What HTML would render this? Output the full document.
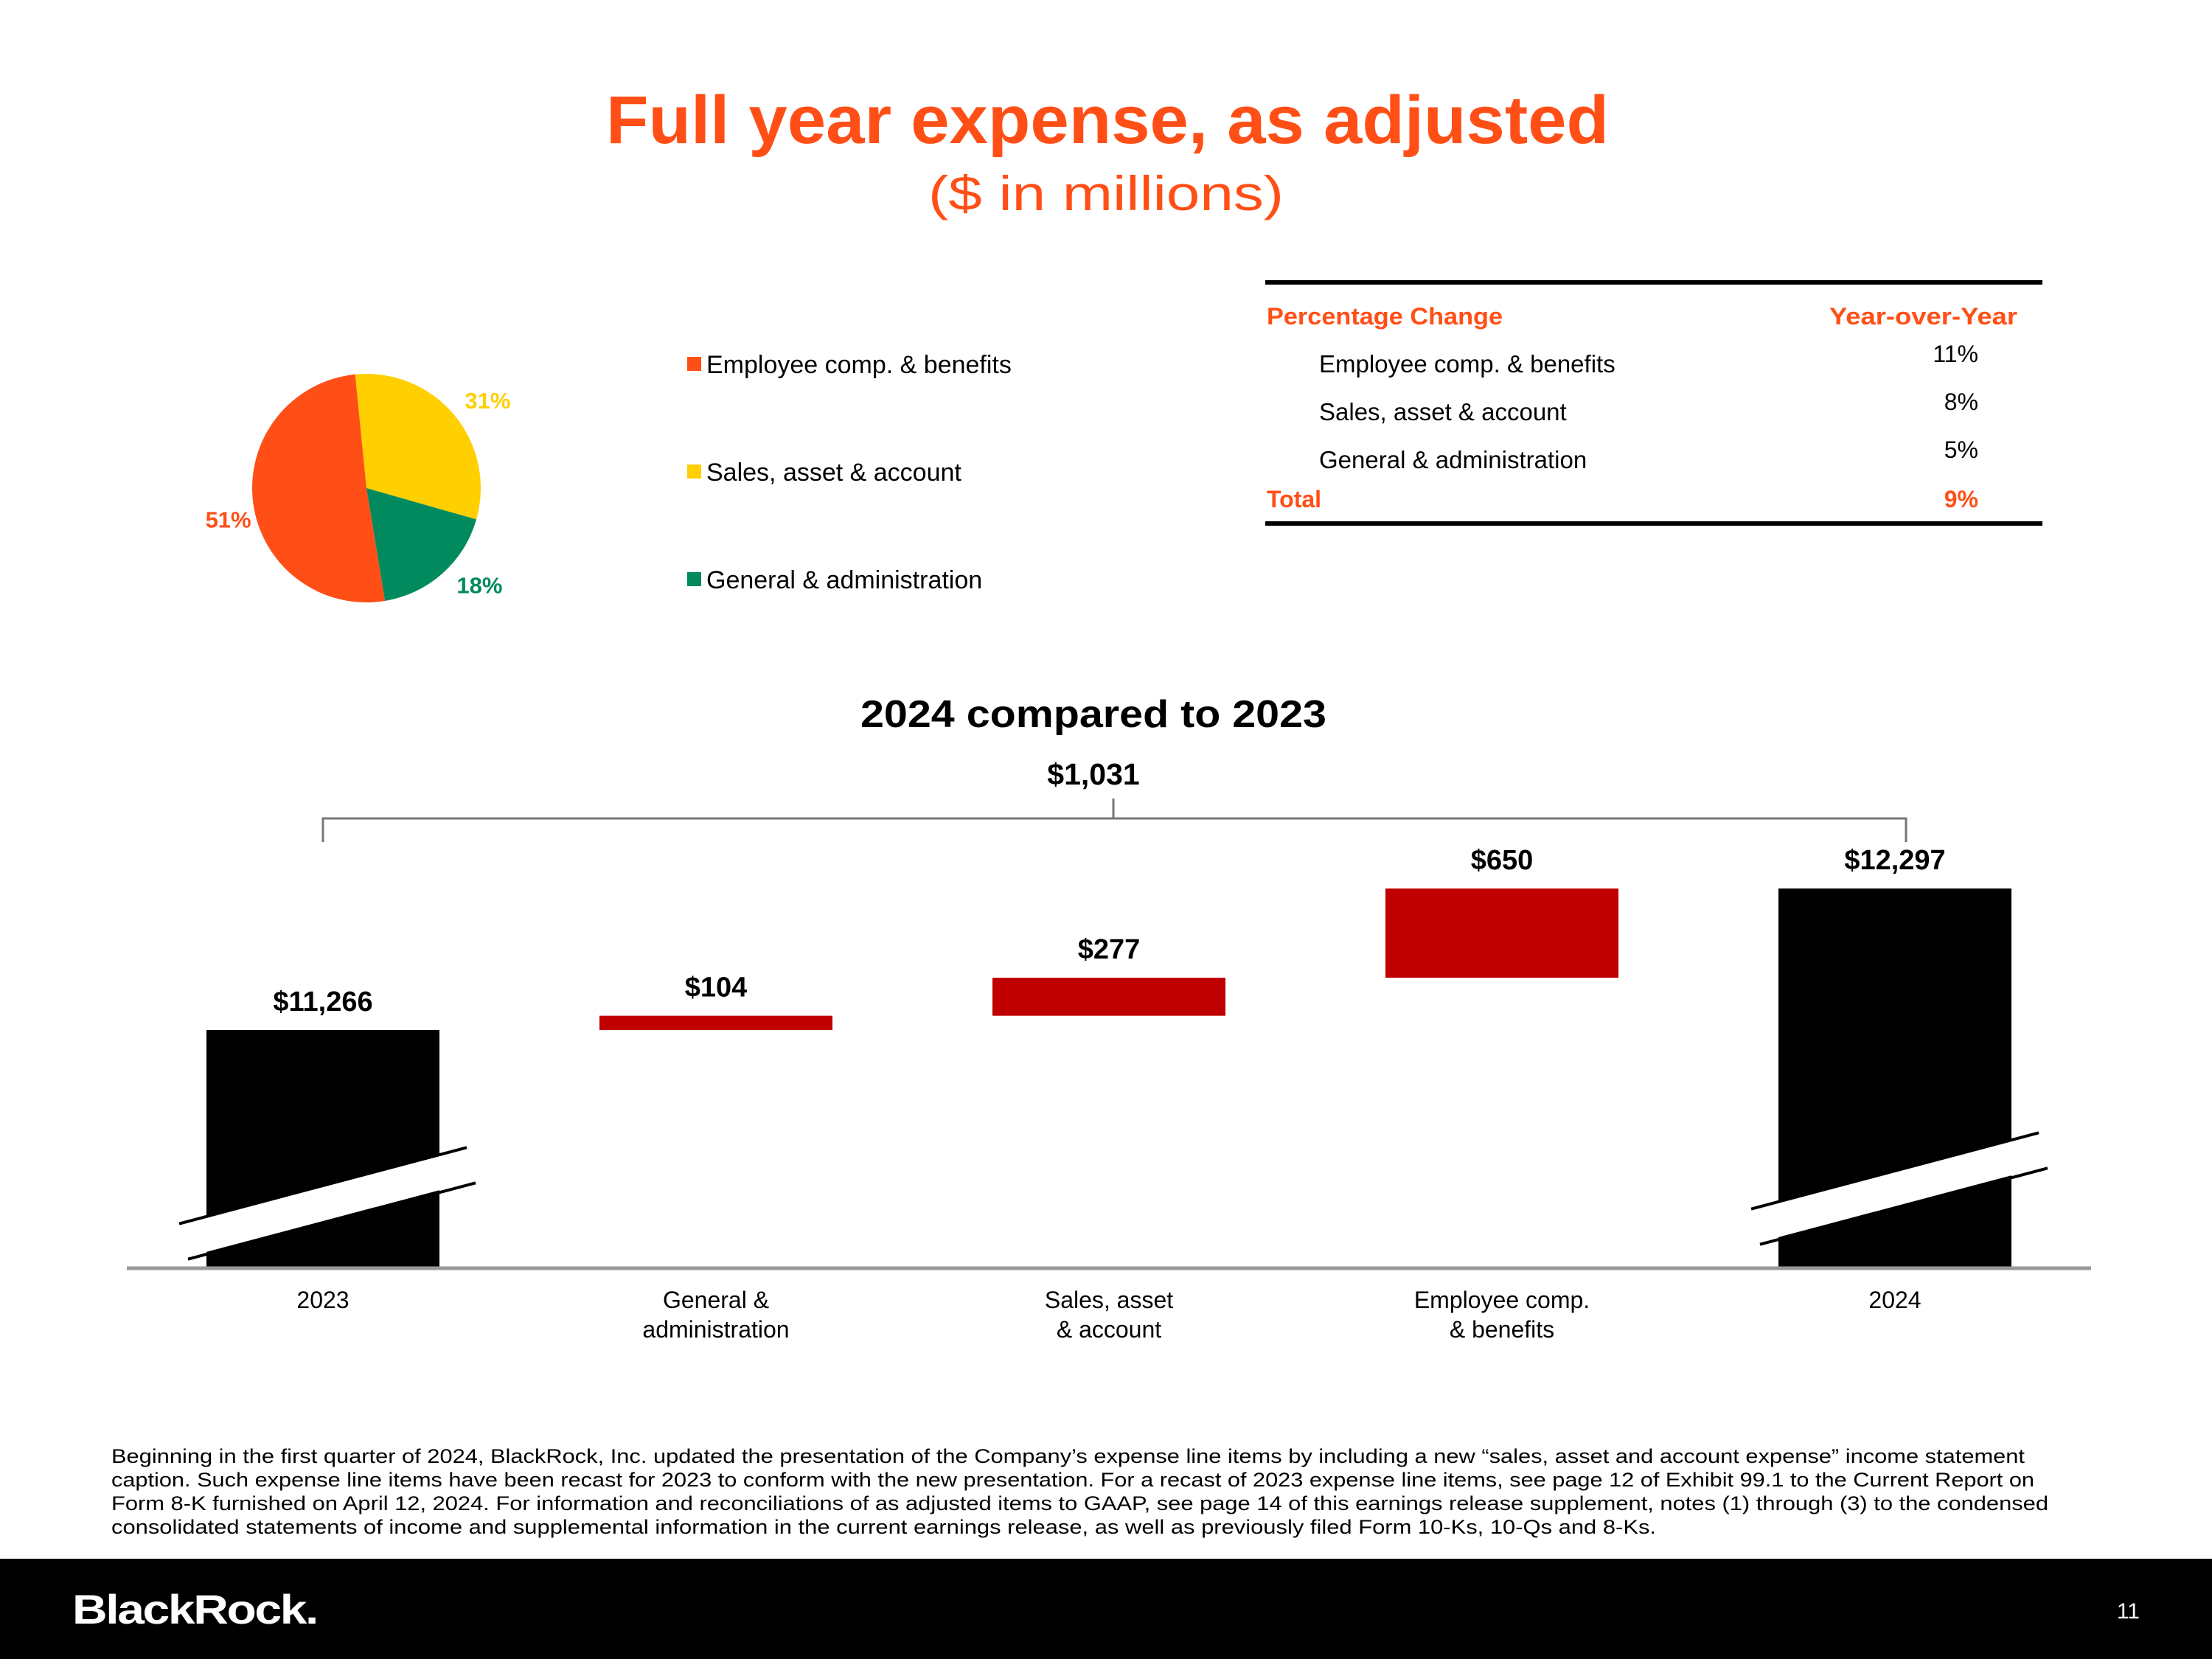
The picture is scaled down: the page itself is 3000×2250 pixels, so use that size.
<!DOCTYPE html>
<html><head><meta charset="utf-8">
<style>
html,body{margin:0;padding:0;background:#fff;}
svg{display:block;font-family:"Liberation Sans",sans-serif;}
</style></head>
<body>
<svg id="chart" width="3000" height="2250" viewBox="0 0 3000 2250" xmlns="http://www.w3.org/2000/svg">
<text x="1502" y="194" text-anchor="middle" font-size="92" font-weight="bold" fill="#FF4F17" textLength="1360" lengthAdjust="spacingAndGlyphs">Full year expense, as adjusted</text>
<text x="1500" y="285" text-anchor="middle" font-size="66" fill="#FF4F17" textLength="482" lengthAdjust="spacingAndGlyphs">($ in millions)</text>

<g id="pie"></g>
<g id="legend"></g>

<g>
<line x1="1716" y1="383" x2="2770" y2="383" stroke="#000" stroke-width="6"/>
<text x="1718" y="440" font-size="32" font-weight="bold" fill="#FF4F17" textLength="320" lengthAdjust="spacingAndGlyphs">Percentage Change</text>
<text x="2736" y="440" text-anchor="end" font-size="32" font-weight="bold" fill="#FF4F17" textLength="255" lengthAdjust="spacingAndGlyphs">Year-over-Year</text>
<g id="tableRows"></g>
<line x1="1716" y1="710" x2="2770" y2="710" stroke="#000" stroke-width="6"/>
</g>

<text x="1483" y="986" text-anchor="middle" font-size="52" font-weight="bold" fill="#000" textLength="632" lengthAdjust="spacingAndGlyphs">2024 compared to 2023</text>
<text x="1483" y="1064" text-anchor="middle" font-size="41" font-weight="bold" fill="#000">$1,031</text>
<g stroke="#777" stroke-width="3" fill="none">
<polyline points="438,1142 438,1110 2585,1110 2585,1142"/>
<line x1="1510" y1="1083" x2="1510" y2="1110"/>
</g>
<g id="bars"></g>
<line x1="172" y1="1720" x2="2836" y2="1720" stroke="#999" stroke-width="5"/>
<g id="catLabels"></g>

<g font-size="27" fill="#000">
<text x="151" y="1984" textLength="2595" lengthAdjust="spacingAndGlyphs">Beginning in the first quarter of 2024, BlackRock, Inc. updated the presentation of the Company’s expense line items by including a new “sales, asset and account expense” income statement</text>
<text x="151" y="2016" textLength="2608" lengthAdjust="spacingAndGlyphs">caption. Such expense line items have been recast for 2023 to conform with the new presentation. For a recast of 2023 expense line items, see page 12 of Exhibit 99.1 to the Current Report on</text>
<text x="151" y="2048" textLength="2627" lengthAdjust="spacingAndGlyphs">Form 8-K furnished on April 12, 2024. For information and reconciliations of as adjusted items to GAAP, see page 14 of this earnings release supplement, notes (1) through (3) to the condensed</text>
<text x="151" y="2080" textLength="2095" lengthAdjust="spacingAndGlyphs">consolidated statements of income and supplemental information in the current earnings release, as well as previously filed Form 10-Ks, 10-Qs and 8-Ks.</text>
</g>
<rect x="0" y="2114" width="3000" height="136" fill="#000"/>
<text x="98" y="2202" font-size="56" font-weight="bold" fill="#fff" letter-spacing="-2" textLength="332" lengthAdjust="spacingAndGlyphs">BlackRock.</text>
<text x="2902" y="2195" text-anchor="end" font-size="30" fill="#fff">11</text>
</svg>
<script>
const NS="http://www.w3.org/2000/svg";
const pieLabels=["Sales, asset & account","General & administration","Employee comp. & benefits"];
const pieShares=[31,18,51];
const pieColors=["#FFCF00","#008A5E","#FF4F17"];
const legendLabels=["Employee comp. & benefits","Sales, asset & account","General & administration"];
const legendColors=["#FF4F17","#FFCF00","#008A5E"];
const tableLabels=["Employee comp. & benefits","Sales, asset & account","General & administration"];
const tableValues=["11%","8%","5%"];
const totalValue="9%";
const categories=["2023","General &|administration","Sales, asset|& account","Employee comp.|& benefits","2024"];
const barValues=[11266,104,277,650,12297];
const barKinds=["total","delta","delta","delta","total"];
const barLabels=["$11,266","$104","$277","$650","$12,297"];

function mk(tag,attrs,parent){const e=document.createElementNS(NS,tag);for(const k in attrs)e.setAttribute(k,attrs[k]);parent.appendChild(e);return e;}

// pie
const pie=document.getElementById('pie');
const cx=497,cy=662,r=155;
const nudgeX=[13,21,-10], nudgeY=[-8,-17,9];
let ang=-5.7*Math.PI/180;
const tot=pieShares.reduce((a,b)=>a+b,0);
pieShares.forEach((v,i)=>{
  const a0=ang,a1=ang+v/tot*2*Math.PI;ang=a1;
  const x0=cx+r*Math.sin(a0),y0=cy-r*Math.cos(a0),x1=cx+r*Math.sin(a1),y1=cy-r*Math.cos(a1);
  const p=mk('path',{d:`M${cx},${cy}L${x0},${y0}A${r},${r} 0 ${a1-a0>Math.PI?1:0} 1 ${x1},${y1}Z`,fill:pieColors[i]},pie);
  
  
  const am=(a0+a1)/2,lr=r+32;
  const t=mk('text',{x:cx+lr*Math.sin(am)+8+nudgeX[i],y:cy-lr*Math.cos(am)+20+nudgeY[i],'text-anchor':'middle','font-size':31,'font-weight':'bold',fill:pieColors[i]},pie);
  t.textContent=v+'%';
  
  
});
// legend
const lg=document.getElementById('legend');
legendLabels.forEach((l,i)=>{
  const y=494+i*146;
  const s=mk('rect',{x:932,y:y-10,width:19,height:19,fill:legendColors[i]},lg);
  
  
  const t=mk('text',{x:958,y:y+12,'font-size':34,fill:'#000'},lg);
  t.textContent=l;
  
  
});
// table
const tr=document.getElementById('tableRows');
tableLabels.forEach((l,i)=>{
  const t=mk('text',{x:1789,y:505+i*65,'font-size':33,fill:'#000'},tr);
  t.textContent=l;
  
  
  const v=mk('text',{x:2683,y:491+i*65,'text-anchor':'end','font-size':32,fill:'#000'},tr);
  v.textContent=tableValues[i];
  
  
});
const tl=mk('text',{x:1718,y:688,'font-size':32,'font-weight':'bold',fill:'#FF4F17'},tr);
tl.textContent='Total';


const tv=mk('text',{x:2683,y:688,'text-anchor':'end','font-size':32,'font-weight':'bold',fill:'#FF4F17'},tr);
tv.textContent=totalValue;



// waterfall
const base=barValues[0],pxPer=0.1862,yBase=1397,floorY=1720;
const yS=v=>yBase-(v-base)*pxPer;
const xC=i=>438+i*533,bw=316;
const bars=document.getElementById('bars');
let run=0;
barValues.forEach((v,i)=>{
  let top,bot,fill;
  if(barKinds[i]==='total'){top=yS(v);bot=floorY;fill='#000';run=v;}
  else{bot=yS(run);run+=v;top=yS(run);fill='#C00000';}
  const b=mk('rect',{x:xC(i)-bw/2,y:top,width:bw,height:bot-top,fill:fill},bars);
  
  
  const t=mk('text',{x:xC(i),y:top-26,'text-anchor':'middle','font-size':38,'font-weight':'bold',fill:'#000'},bars);
  t.textContent=barLabels[i];
  
  
  if(barKinds[i]==='total'){
    const c=xC(i),yy=(i===0)?1620:1600;
    const dx=195,slope=0.265;
    const g=mk('g',{},bars);
    
    
    mk('polygon',{points:`${c-dx},${yy+slope*dx-12} ${c+dx},${yy-slope*dx-12} ${c+dx},${yy-slope*dx+36} ${c-dx},${yy+slope*dx+36}`,fill:'#fff'},g);
    mk('line',{x1:c-dx,y1:yy+slope*dx-12,x2:c+dx,y2:yy-slope*dx-12,stroke:'#000','stroke-width':4},g);
    mk('line',{x1:c-dx+12,y1:yy+slope*dx+36,x2:c+dx+12,y2:yy-slope*dx+36,stroke:'#000','stroke-width':4},g);
  }
});
const cl=document.getElementById('catLabels');
categories.forEach((c,i)=>{
  c.split('|').forEach((ln,j)=>{
    const t=mk('text',{x:xC(i),y:1774+j*40,'text-anchor':'middle','font-size':32,fill:'#000'},cl);
    t.textContent=ln;
    
    
  });
});
</script>
</body></html>
